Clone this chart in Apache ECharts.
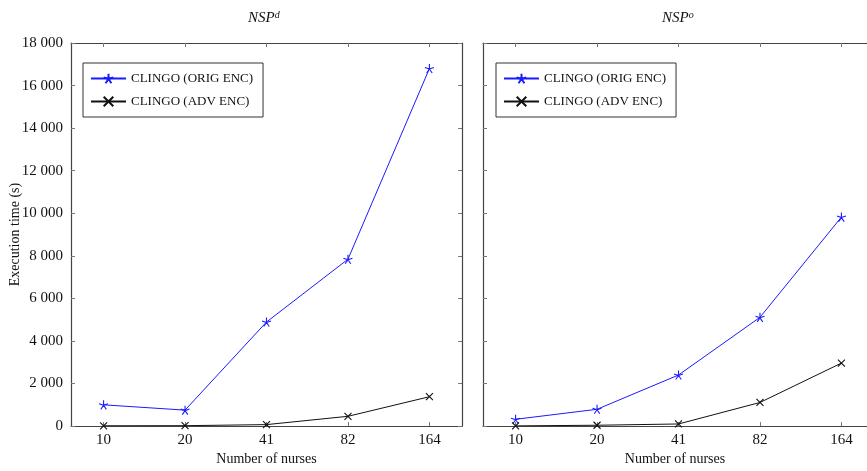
<!DOCTYPE html>
<html>
<head>
<meta charset="utf-8">
<script src="https://cdn.jsdelivr.net/npm/echarts@6/dist/echarts.min.js"></script>
<style>
  html, body { margin: 0; padding: 0; background: #fff; }
  #chart { width: 867px; height: 471px; }
</style>
</head>
<body>
<div id="chart"></div>
<script>
const nurses = ['10', '20', '41', '82', '164']

// NSP^d
const origD = [1000, 750, 4890, 7840, 16800]
const advD = [15, 20, 70, 460, 1380]

// NSP^o
const origO = [320, 790, 2400, 5110, 9820]
const advO = [10, 40, 100, 1110, 2960]

const positions = nurses.map((n, i) => i + 1)

const serif = 'Liberation Serif'
const axisColor = '#444'
const starPath = 'path://M5,5L5,0M5,5L9.76,3.45M5,5L7.94,9.05M5,5L2.06,9.05M5,5L0.24,3.45'
const crossPath = 'path://M0,0L10,10M10,0L0,10'

const toPoints = (values) => values.map((v, i) => [positions[i], v])

const fmtThousands = (v) => {
    if (v < 1000) return String(v)
    return Math.floor(v / 1000) + ' 000'
}

// right panel is cut by the picture edge, so its x range stops early
const makeXAxis = (gridIndex, position, showLabels, max) => {
    return {
        type: 'value',
        gridIndex: gridIndex,
        position: position,
        min: 0.6,
        max: max,
        splitLine: { show: false },
        axisLine: { show: true, onZero: false, lineStyle: { color: axisColor, width: 1.2 } },
        axisTick: { show: true, inside: true, length: 4, customValues: positions, lineStyle: { color: '#777' } },
        axisLabel: {
            show: showLabels,
            customValues: positions,
            formatter: v => nurses[Math.round(v) - 1],
            fontFamily: serif,
            fontSize: 15,
            color: '#111',
            margin: 6
        },
        name: showLabels ? 'Number of nurses' : '',
        nameLocation: 'middle',
        nameGap: 24,
        nameTextStyle: { fontFamily: serif, fontSize: 14, color: '#111' }
    }
}

const makeYAxis = (gridIndex, position, showLabels, name) => {
    return {
        type: 'value',
        gridIndex: gridIndex,
        position: position,
        min: 0,
        max: 18000,
        interval: 2000,
        splitLine: { show: false },
        axisLine: { show: true, onZero: false, lineStyle: { color: axisColor, width: 1.2 } },
        axisTick: { show: true, inside: true, length: 4, lineStyle: { color: '#777' } },
        axisLabel: {
            show: showLabels,
            formatter: fmtThousands,
            fontFamily: serif,
            fontSize: 15,
            color: '#111',
            margin: 8
        },
        name: name || '',
        nameLocation: 'middle',
        nameGap: 49,
        nameMoveOverlap: false,
        nameTextStyle: { fontFamily: serif, fontSize: 14, color: '#111' }
    }
}

const makeSeries = (name, values, axisIndex, color, symbol, size) => {
    return {
        name: name,
        type: 'line',
        xAxisIndex: axisIndex,
        yAxisIndex: axisIndex,
        data: toPoints(values),
        symbol: symbol,
        symbolSize: size,
        showSymbol: true,
        lineStyle: { color: color, width: 1 },
        itemStyle: { color: color, borderColor: color, borderWidth: 1.1 },
        emphasis: { disabled: true }
    }
}

const makeLegend = (left) => {
    return {
        left: left,
        top: 63,
        orient: 'vertical',
        data: ['CLINGO (ORIG ENC)', 'CLINGO (ADV ENC)'],
        itemWidth: 35,
        itemHeight: 12,
        itemGap: 10,
        padding: [9, 10, 9, 7],
        borderColor: '#333',
        borderWidth: 1,
        selectedMode: false,
        textStyle: { fontFamily: serif, fontSize: 13, color: '#111' }
    }
}

const makeTitle = (left, sup) => {
    return {
        text: '{i|NSP}{s|' + sup + '}',
        left: left,
        top: 5,
        textStyle: {
            fontWeight: 'normal',
            rich: {
                i: { fontFamily: serif, fontStyle: 'italic', fontWeight: 'normal', fontSize: 15, color: '#111' },
                s: { fontFamily: serif, fontStyle: 'italic', fontWeight: 'normal', fontSize: 10, color: '#111', padding: [0, 0, 7, 0] }
            }
        }
    }
}

const option = {
    animation: false,
    backgroundColor: '#fff',
    title: [makeTitle(243, 'd'), makeTitle(657, 'o')],
    legend: [makeLegend(83), makeLegend(496)],
    grid: [
        { left: 71, right: 405, top: 43, bottom: 38 },
        { left: 483, right: 0, top: 43, bottom: 38 }
    ],
    xAxis: [
        makeXAxis(0, 'bottom', true, 5.4),
        makeXAxis(0, 'top', false, 5.4),
        makeXAxis(1, 'bottom', true, 5.314),
        makeXAxis(1, 'top', false, 5.314)
    ],
    yAxis: [
        makeYAxis(0, 'left', true, 'Execution time (s)'),
        makeYAxis(0, 'right', false),
        makeYAxis(1, 'left', false)
    ],
    series: [
        makeSeries('CLINGO (ORIG ENC)', origD, 0, '#1a1aff', starPath, 9),
        makeSeries('CLINGO (ADV ENC)', advD, 0, '#111', crossPath, 7),
        makeSeries('CLINGO (ORIG ENC)', origO, 2, '#1a1aff', starPath, 9),
        makeSeries('CLINGO (ADV ENC)', advO, 2, '#111', crossPath, 7)
    ]
}

// series 2 and 3 go on the right panel (x axis 2, y axis 2)
option.series[2].yAxisIndex = 2
option.series[3].yAxisIndex = 2

const chart = echarts.init(document.getElementById('chart'))
chart.setOption(option)
</script>
</body>
</html>
